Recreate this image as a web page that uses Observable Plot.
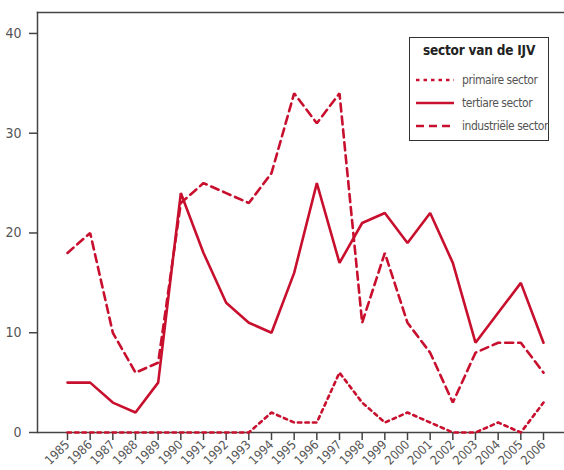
<!DOCTYPE html>
<html>
<head>
<meta charset="utf-8">
<script src="https://cdn.jsdelivr.net/npm/d3@7"></script>
<script src="https://cdn.jsdelivr.net/npm/@observablehq/plot@0.6"></script>
<style>
  body { margin: 0; background: #fff; }
  #wrap { position: relative; width: 564px; height: 470px; font-family: "DejaVu Sans Condensed", "DejaVu Sans", sans-serif; font-stretch: condensed; }
  #chart svg, #chart svg text { font-family: "DejaVu Sans Condensed", "DejaVu Sans", sans-serif; font-stretch: condensed; }
  #legend { position: absolute; left: 409px; top: 37px; width: 138px; height: 102px; border: 1.5px solid #333; background: #fff; color: #555; white-space: nowrap; }
  #legend .title { text-align: center; font-weight: bold; color: #222; font-size: 13.5px; margin-top: 4px; letter-spacing: -0.2px; }
  #legend .row { display: flex; align-items: center; height: 23px; font-size: 12px; letter-spacing: -0.45px; }
  #legend svg { margin-left: 6px; margin-right: 8px; flex: none; }
</style>
</head>
<body>
<div id="wrap"><div id="chart"></div><div id="legend"></div></div>
<script>
const years = [1985,1986,1987,1988,1989,1990,1991,1992,1993,1994,1995,1996,1997,1998,1999,2000,2001,2002,2003,2004,2005,2006];
const primaire = [0,0,0,0,0,0,0,0,0,2,1,1,6,3,1,2,1,0,0,1,0,3];
const tertiaire = [5,5,3,2,5,24,18,13,11,10,16,25,17,21,22,19,22,17,9,12,15,9];
const industriele = [18,20,10,6,7,23,25,24,23,26,34,31,34,11,18,11,8,3,8,9,9,6];
const yTicks = [0,10,20,30,40];
const seriesNames = ["primaire sector","tertiare sector","industriële sector"];
const dashes = ["3.5,4", null, "8,5"];
const legendTitle = "sector van de IJV";
const red = "#c8102e";

const seriesValues = [primaire, tertiaire, industriele];
const data = [];
seriesValues.forEach((vals, s) => vals.forEach((v, i) => data.push({year: years[i], value: v, series: seriesNames[s]})));

const marks = [
  Plot.frame({anchor: "left", stroke: "#444", strokeWidth: 1.5}),
  Plot.frame({anchor: "top", stroke: "#444", strokeWidth: 1.5}),
  Plot.axisY({ticks: yTicks, tickSize: 8, tickPadding: 8, fontSize: 14, stroke: "#444", strokeWidth: 1.5, color: "#555", label: null}),
  Plot.axisX({ticks: years, tickFormat: d => String(d), tickSize: 8, tickPadding: 2, tickRotate: -45, fontSize: 12.5, stroke: "#444", strokeWidth: 1.5, color: "#555", label: null}),
  Plot.ruleY([0], {stroke: "#444", strokeWidth: 1.5})
];
seriesNames.forEach((name, s) => {
  marks.push(Plot.line(data.filter(d => d.series === name), {x: "year", y: "value", stroke: red, strokeWidth: 2.6, strokeDasharray: dashes[s], strokeLinejoin: "miter"}));
});

const chart = Plot.plot({
  width: 564,
  height: 470,
  marginLeft: 37,
  marginRight: 0,
  marginTop: 12,
  marginBottom: 38,
  insetLeft: 30,
  insetRight: 21,
  style: {background: "#fff"},
  x: {type: "linear", domain: [1985, 2006]},
  y: {domain: [0, 42.1]},
  marks
});
document.getElementById("chart").appendChild(chart);

const legend = document.getElementById("legend");
const t = document.createElement("div");
t.className = "title"; t.textContent = legendTitle; t.style.height = "26px";
legend.appendChild(t);
[0, 1, 2].forEach(s => {
  const row = document.createElement("div");
  row.className = "row";
  row.innerHTML = `<svg width="38" height="6"><line x1="0" x2="38" y1="3" y2="3" stroke="${red}" stroke-width="2.6" ${dashes[s] ? `stroke-dasharray="${dashes[s]}"` : ""}/></svg><span>${seriesNames[s]}</span>`;
  legend.appendChild(row);
});
</script>
</body>
</html>
